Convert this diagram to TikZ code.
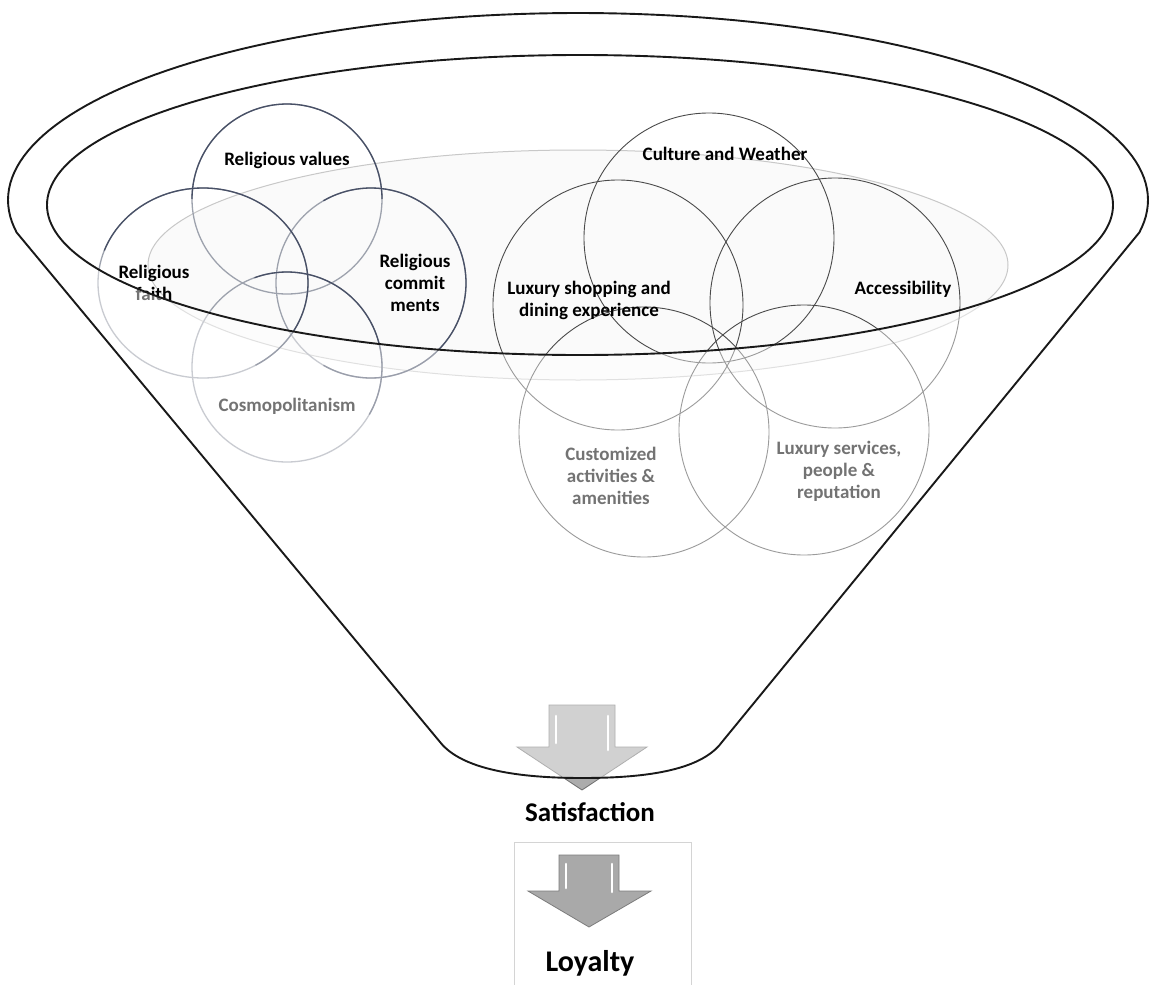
\documentclass[tikz,border=0pt]{standalone}
\usepackage{fontspec}
\setmainfont{Carlito}
\definecolor{slate}{HTML}{485066}
\definecolor{slatel}{HTML}{9DA2AD}
\definecolor{cgray}{HTML}{4A4A4A}
\definecolor{ellgray}{HTML}{C8C8C8}
\definecolor{arrA}{HTML}{ACACAC}
\definecolor{arrAb}{HTML}{6E6E6E}
\definecolor{arrB}{HTML}{A9A9A9}
\definecolor{arrBb}{HTML}{7C7C7C}
\definecolor{boxgray}{HTML}{D4D4D4}
\begin{document}
\begin{tikzpicture}[x=1pt,y=-1pt,
  funnel/.style={draw=black!90, line width=1.9pt},
  lcirc/.style={draw=slatel, line width=1.3pt},
  ldark/.style={draw=slate, line width=1.3pt},
  rcirc/.style={draw=cgray, line width=0.9pt},
  lab/.style={font=\bfseries\fontsize{19}{22}\selectfont, align=center, text=black, inner sep=0pt},
  big/.style={font=\bfseries\fontsize{27}{30}\selectfont, text=black, inner sep=0pt},
  arrowhl/.style={draw=white, line width=2.6pt, line cap=round}
]
\useasboundingbox (0,0) rectangle (1149,985);
\fill[white] (0,0) rectangle (1149,985);

% light inner ellipse
\path[draw=ellgray, line width=1pt, fill=black!2] (578,265) ellipse [x radius=430, y radius=115];

% left group circles
\draw[lcirc] (287,199) circle [radius=95];
\draw[lcirc] (203,283) ellipse [x radius=105, y radius=95];
\draw[lcirc] (371,283) circle [radius=95];
\draw[lcirc] (287,367) circle [radius=95];
\draw[ldark] plot[domain=180:360, samples=60] ({287+95*cos(\x)},{199+95*sin(\x)});
\draw[ldark] plot[domain=200:420, samples=80] ({203+105*cos(\x)},{283+95*sin(\x)});
\draw[ldark] plot[domain=240:480, samples=80] ({371+95*cos(\x)},{283+95*sin(\x)});
\draw[ldark] plot[domain=250:390, samples=60] ({287+95*cos(\x)},{367+95*sin(\x)});

% right group circles
\draw[rcirc] (709,238) circle [radius=125];
\draw[rcirc] (618,305) circle [radius=125];
\draw[rcirc] (835,303) circle [radius=125];
\draw[rcirc] (644,432) circle [radius=125];
\draw[rcirc] (804,430) circle [radius=125];

% labels
\node[lab] (rv) at (287,160) {Religious values};
\node[lab] (rf) at (154,283) {Religious\\faith};
\node[lab] (rc) at (415,283) {Religious\\commit\\ments};
\node[lab] (cos) at (287,406) {Cosmopolitanism};
\node[lab] (cw) at (725,154) {Culture and Weather};
\node[lab] (ls) at (589,300) {Luxury shopping and\\dining experience};
\node[lab] (acc) at (903,289) {Accessibility};
\node[lab] (ca) at (611,476) {Customized\\activities \&\\amenities};
\node[lab] (lsv) at (839,471) {Luxury services,\\people \&\\reputation};

% first arrow
\path[fill=arrA, draw=arrAb, line width=0.8pt] (549,705) -- (615,705) -- (615,747) -- (647,747) -- (582,790) -- (517,747) -- (549,747) -- cycle;
\draw[arrowhl] (556,716) -- (556,743);
\draw[arrowhl] (608,716) -- (608,750);

% funnel wall overlay
\fill[white, fill opacity=0.45, even odd rule]
  plot[domain=170:370, samples=120] ({578+570*cos(\x)},{200+187*sin(\x)})
  -- (722,742) .. controls (700,772) and (640,778) .. (582,778)
  .. controls (520,778) and (462,770) .. (440,742) -- cycle
  (580,205) ellipse [x radius=533, y radius=150];

% funnel outlines
\draw[funnel, line join=round]
  plot[domain=170:370, samples=120] ({578+570*cos(\x)},{200+187*sin(\x)})
  -- (722,742) .. controls (700,772) and (640,778) .. (582,778)
  .. controls (520,778) and (462,770) .. (440,742) -- cycle;
\draw[funnel] (580,205) ellipse [x radius=533, y radius=150];

% satisfaction
\node[big] (sat) at (590,812) {Satisfaction};

% loyalty box and arrow
\draw[boxgray, line width=1pt] (514,985) -- (514,842) -- (691,842) -- (691,985);
\path[fill=arrB, draw=arrBb, line width=0.8pt] (559,855) -- (619,855) -- (619,891) -- (651,891) -- (589,927) -- (528,891) -- (559,891) -- cycle;
\draw[arrowhl] (566,864) -- (566,888);
\draw[arrowhl] (612,864) -- (612,892);
\node[big, font=\bfseries\fontsize{30}{33}\selectfont] (loy) at (590,963) {Loyalty};
\end{tikzpicture}
\end{document}
